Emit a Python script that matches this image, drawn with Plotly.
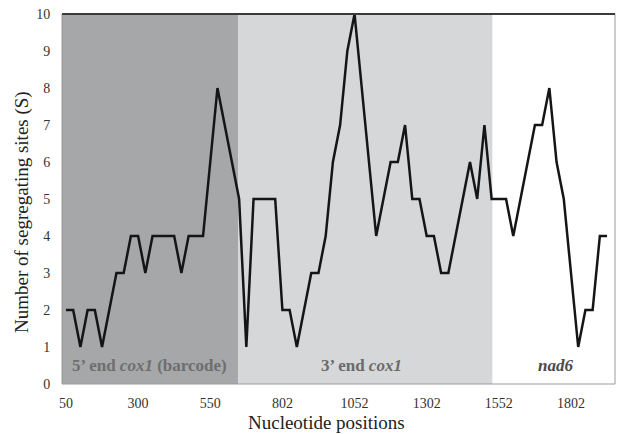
import plotly.graph_objects as go

# Nucleotide positions (category axis; labelled every 10th point)
positions = [50 + 25 * i for i in range(21)] + [577 + 25 * i for i in range(55)]
tick_labels = ["50", "300", "550", "802", "1052", "1302", "1552", "1802"]

# Number of segregating sites (S)
seg_sites = [2, 2, 1, 2, 2, 1, 2, 3, 3, 4,
             4, 3, 4, 4, 4, 4, 3, 4, 4, 4,
             6, 8, 7, 6, 5, 1, 5, 5, 5, 5,
             2, 2, 1, 2, 3, 3, 4, 6, 7, 9,
             10, 8, 6, 4, 5, 6, 6, 7, 5, 5,
             4, 4, 3, 3, 4, 5, 6, 5, 7, 5,
             5, 5, 4, 5, 6, 7, 7, 8, 6, 5,
             3, 1, 2, 2, 4, 4]

region_labels = ["5’ end <i>cox1</i> (barcode)", "3’ end <i>cox1</i>", "<i>nad6</i>"]
x_title = "Nucleotide positions"
y_title = "Number of segregating sites (S)"

cats = [str(p) for p in positions]

fig = go.Figure()
fig.add_trace(go.Scatter(
    x=cats, y=seg_sites, mode="lines",
    line=dict(color="#151515", width=2.5),
    hoverinfo="x+y", showlegend=False,
))

font_family = "Liberation Serif, Times New Roman, serif"

shapes = [
    dict(type="rect", xref="x", yref="paper", x0=-0.55, x1=23.9, y0=0, y1=1,
         fillcolor="#a6a7a9", line=dict(width=0), layer="below"),
    dict(type="rect", xref="x", yref="paper", x0=23.9, x1=59.1, y0=0, y1=1,
         fillcolor="#d6d7d9", line=dict(width=0), layer="below"),
    dict(type="rect", xref="paper", yref="paper", x0=0, x1=1, y0=0, y1=1,
         fillcolor="rgba(0,0,0,0)", line=dict(color="#9a9a9a", width=1), layer="above"),
    dict(type="line", xref="paper", yref="paper", x0=0, x1=1, y0=1, y1=1,
         line=dict(color="#3a3a3a", width=2), layer="above"),
]

annotations = [
    dict(x=11.6, y=0.5, xref="x", yref="y", text="<b>" + region_labels[0] + "</b>",
         showarrow=False, font=dict(family=font_family, size=17, color="#6e6e6e")),
    dict(x=40.9, y=0.5, xref="x", yref="y", text="<b>" + region_labels[1] + "</b>",
         showarrow=False, font=dict(family=font_family, size=17, color="#6a6a6a")),
    dict(x=67.8, y=0.5, xref="x", yref="y", text="<b>" + region_labels[2] + "</b>",
         showarrow=False, font=dict(family=font_family, size=17, color="#4a4a4a")),
    dict(x=0.479, y=-0.103, xref="paper", yref="paper", text=x_title,
         showarrow=False, xanchor="center", yanchor="middle",
         font=dict(family=font_family, size=19, color="#222222")),
    dict(x=-0.0723, y=0.465, xref="paper", yref="paper", text=y_title, textangle=-90,
         showarrow=False, xanchor="center", yanchor="middle",
         font=dict(family=font_family, size=19, color="#222222")),
]

fig.update_layout(
    width=617, height=434,
    margin=dict(l=62, r=2, t=14, b=50),
    paper_bgcolor="white", plot_bgcolor="white",
    font=dict(family=font_family, size=14, color="#333333"),
    shapes=shapes, annotations=annotations,
    xaxis=dict(
        type="category", range=[-0.55, 76.1],
        tickmode="array", tickvals=tick_labels, ticktext=tick_labels,
        showgrid=False, zeroline=False, showline=False,
        ticks="outside", ticklen=6, tickcolor="rgba(0,0,0,0)",
        tickfont=dict(size=14, color="#333333"),
    ),
    yaxis=dict(
        range=[0, 10], tickmode="array", tickvals=list(range(11)),
        showgrid=False, zeroline=False, showline=False,
        ticks="outside", ticklen=8, tickcolor="rgba(0,0,0,0)",
        tickfont=dict(size=14, color="#333333"),
    ),
)

fig.write_html("out.html", config={"displayModeBar": False},
               post_script="document.body.style.margin='0';")
